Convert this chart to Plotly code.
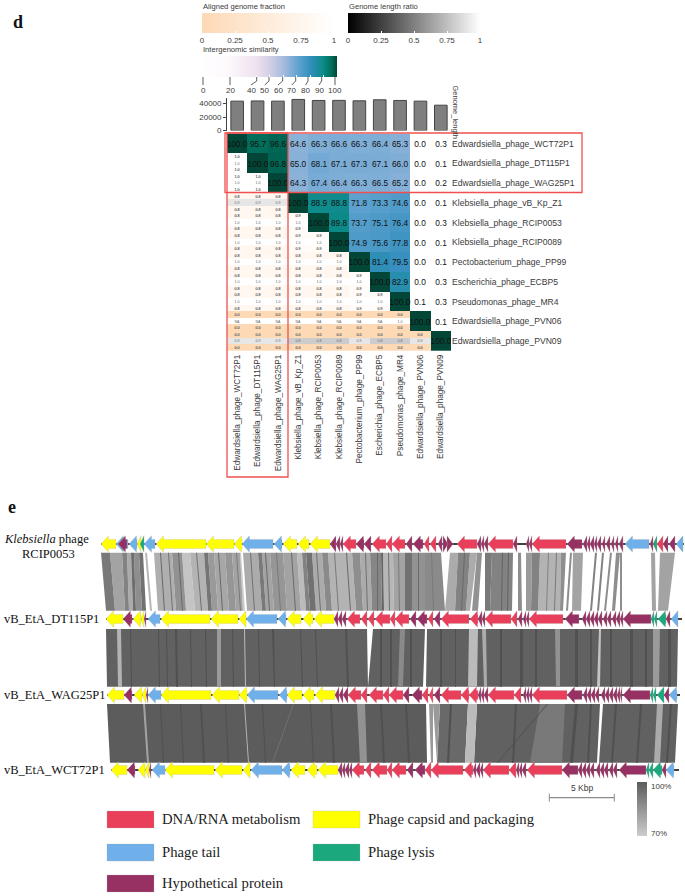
import plotly.graph_objects as go

W, H = 685, 896

# ---------- panel d data ----------
PHAGES = ["Edwardsiella_phage_WCT72P1", "Edwardsiella_phage_DT115P1", "Edwardsiella_phage_WAG25P1",
          "Klebsiella_phage_vB_Kp_Z1", "Klebsiella_phage_RCIP0053", "Klebsiella_phage_RCIP0089",
          "Pectobacterium_phage_PP99", "Escherichia_phage_ECBP5", "Pseudomonas_phage_MR4",
          "Edwardsiella_phage_PVN06", "Edwardsiella_phage_PVN09"]
GENOME_LENGTH = [43500, 43800, 43500, 46000, 44500, 44600, 44000, 45500, 44500, 43500, 37500]
# upper triangle, row by row, starting at the diagonal
SIMILARITY = [
    [100.0, 95.7, 96.6, 64.6, 66.3, 66.6, 66.3, 66.4, 65.3, 0.0, 0.3],
    [100.0, 96.8, 65.0, 68.1, 67.1, 67.3, 67.1, 66.0, 0.0, 0.1],
    [100.0, 64.3, 67.4, 66.4, 66.3, 66.5, 65.2, 0.0, 0.2],
    [100.0, 88.9, 88.8, 71.8, 73.3, 74.6, 0.0, 0.1],
    [100.0, 89.8, 73.7, 75.1, 76.4, 0.0, 0.3],
    [100.0, 74.9, 75.6, 77.8, 0.0, 0.1],
    [100.0, 81.4, 79.5, 0.0, 0.1],
    [100.0, 82.9, 0.0, 0.3],
    [100.0, 0.1, 0.3],
    [100.0, 0.1],
    [100.0],
]
# lower triangle: aligned fraction (used for top and bottom strip of each cell)
ALIGNED = [
    [],
    [1.0],
    [1.0, 1.0],
    [0.8, 0.8, 0.8],
    [0.8, 0.8, 0.8, 0.9],
    [0.8, 0.8, 0.8, 0.9, 0.9],
    [0.8, 0.8, 0.8, 0.8, 0.8, 0.8],
    [0.8, 0.8, 0.8, 0.8, 0.8, 0.8, 0.9],
    [0.8, 0.8, 0.8, 0.8, 0.8, 0.8, 0.9, 0.9],
    [0.0, 0.0, 0.0, 0.0, 0.0, 0.0, 0.0, 0.0, 0.0],
    [0.0, 0.0, 0.0, 0.0, 0.0, 0.0, 0.0, 0.0, 0.0, 0.0],
]
# lower triangle: genome length ratio (None = NA)
RATIO = [
    [],
    [1.0],
    [1.0, 1.0],
    [0.9, 0.9, 0.9],
    [1.0, 1.0, 1.0, 1.0],
    [1.0, 1.0, 1.0, 1.0, 1.0],
    [1.0, 1.0, 1.0, 1.0, 1.0, 1.0],
    [1.0, 1.0, 1.0, 1.0, 1.0, 1.0, 1.0],
    [1.0, 1.0, 1.0, 1.0, 1.0, 1.0, 1.0, 1.0],
    [None, None, None, None, None, None, None, None, 1.0],
    [0.9, 0.9, 0.9, 0.8, 0.8, 0.8, 0.9, 0.8, 0.8, 0.9],
]
FRACTION_TICKS = [0, 0.25, 0.5, 0.75, 1]
SIM_TICKS = [0, 20, 40, 50, 60, 70, 80, 90, 100]

# ---------- panel e data: (tip, tail, class); tip > tail means a rightward gene ----------
# positions along the map axis, 13 units = 1 kbp
UNITS_PER_KBP = 13
SCALE_KBP = 5
TRACK_NAMES = ["RCIP0053", "vB_EtA_DT115P1", "vB_EtA_WAG25P1", "vB_EtA_WCT72P1"]
EXTENT = [(101, 684), (106, 682), (107, 680), (111, 679)]
G1 = [(101, 116, 'C'), (116, 128, 'T'), (118, 127, 'H'), (129, 137, 'T'), (137, 141, 'C'), (140, 144, 'L'),
      (144, 155, 'T'), (156, 206, 'C'), (206, 234, 'C'), (234, 242, 'C'), (242, 273, 'T'), (274, 282, 'T'),
      (283, 297, 'C'), (298, 309, 'C'), (310, 330, 'C'), (330, 336, 'H'), (336, 340, 'H'), (340, 343, 'H'),
      (343, 356, 'D'), (356, 364, 'H'), (364, 371, 'H'), (372, 386, 'D'), (386, 392, 'D'), (392, 405, 'D'),
      (406, 412, 'H'), (413, 423, 'H'), (424, 429, 'D'), (430, 436, 'D'), (438, 442, 'H'), (448, 443, 'H'),
      (453, 447, 'H'), (457, 477, 'D'), (477, 481, 'H'), (481, 484, 'H'), (484, 488, 'H'), (488, 513, 'D'),
      (513, 517, 'H'), (526, 529, 'H'), (529, 532, 'H'), (532, 566, 'D'), (567, 582, 'H'), (583, 587, 'H'),
      (587, 590, 'H'), (590, 594, 'H'), (594, 597, 'H'), (597, 601, 'H'), (602, 605, 'H'), (606, 610, 'H'),
      (611, 614, 'H'), (615, 618, 'H'), (619, 623, 'H'), (625, 649, 'T'), (650, 653, 'H'), (653, 657, 'L'),
      (657, 663, 'D'), (663, 668, 'H'), (669, 675, 'H'), (676, 683, 'T')]
G2 = [(106, 123, 'C'), (123, 132, 'H'), (133, 141, 'C'), (141, 144, 'C'), (144, 146, 'H'), (148, 160, 'T'),
      (161, 210, 'C'), (211, 238, 'C'), (239, 246, 'C'), (246, 277, 'T'), (278, 286, 'T'), (287, 301, 'C'),
      (303, 313, 'C'), (314, 334, 'C'), (334, 338, 'H'), (338, 342, 'H'), (342, 346, 'H'), (347, 360, 'D'),
      (361, 367, 'D'), (368, 374, 'D'), (375, 390, 'D'), (390, 395, 'D'), (395, 409, 'D'), (410, 416, 'H'),
      (417, 427, 'H'), (428, 433, 'D'), (434, 440, 'H'), (441, 469, 'D'), (470, 478, 'D'), (478, 482, 'H'),
      (482, 485, 'H'), (485, 511, 'D'), (511, 517, 'D'), (518, 522, 'H'), (523, 526, 'H'), (526, 529, 'H'),
      (529, 563, 'D'), (565, 579, 'H'), (582, 586, 'H'), (586, 590, 'H'), (590, 594, 'H'), (594, 598, 'H'),
      (598, 602, 'H'), (603, 607, 'H'), (607, 611, 'H'), (612, 616, 'H'), (616, 620, 'H'), (620, 623, 'H'),
      (623, 651, 'H'), (651, 654, 'L'), (654, 657, 'L'), (658, 666, 'L'), (666, 670, 'H'), (671, 678, 'T')]
G3 = [(107, 124, 'C'), (124, 132, 'H'), (134, 142, 'C'), (142, 146, 'C'), (146, 148, 'H'), (148, 161, 'T'),
      (161, 211, 'C'), (212, 239, 'C'), (239, 247, 'C'), (247, 278, 'T'), (279, 287, 'T'), (287, 302, 'C'),
      (303, 314, 'C'), (315, 335, 'C'), (335, 339, 'H'), (339, 343, 'H'), (343, 348, 'H'), (348, 361, 'D'),
      (361, 367, 'D'), (369, 383, 'D'), (383, 389, 'D'), (389, 403, 'D'), (403, 409, 'H'), (412, 422, 'H'),
      (422, 428, 'D'), (429, 433, 'D'), (434, 440, 'H'), (441, 461, 'D'), (461, 469, 'D'), (469, 478, 'D'),
      (478, 481, 'H'), (481, 484, 'H'), (484, 488, 'H'), (488, 514, 'D'), (514, 521, 'D'), (523, 526, 'H'),
      (526, 529, 'H'), (529, 532, 'H'), (532, 567, 'D'), (567, 582, 'H'), (583, 587, 'H'), (587, 591, 'H'),
      (591, 595, 'H'), (595, 599, 'H'), (601, 605, 'H'), (605, 609, 'H'), (609, 613, 'H'), (613, 617, 'H'),
      (617, 620, 'H'), (620, 622, 'H'), (623, 650, 'H'), (650, 653, 'L'), (653, 656, 'L'), (657, 664, 'L'),
      (664, 669, 'H'), (669, 677, 'T')]
G4 = [(111, 127, 'C'), (127, 135, 'H'), (138, 145, 'C'), (145, 149, 'C'), (149, 151, 'H'), (152, 165, 'T'),
      (165, 214, 'C'), (215, 242, 'C'), (243, 250, 'C'), (251, 282, 'T'), (282, 290, 'T'), (291, 305, 'C'),
      (307, 317, 'C'), (318, 338, 'C'), (338, 342, 'H'), (342, 345, 'H'), (345, 349, 'H'), (349, 352, 'H'),
      (352, 364, 'D'), (365, 371, 'D'), (372, 387, 'D'), (387, 392, 'D'), (392, 406, 'D'), (407, 413, 'H'),
      (415, 425, 'H'), (425, 431, 'D'), (431, 463, 'D'), (464, 473, 'D'), (473, 476, 'H'), (476, 480, 'H'),
      (480, 483, 'H'), (483, 509, 'D'), (509, 516, 'D'), (516, 519, 'H'), (519, 522, 'H'), (522, 526, 'H'),
      (527, 562, 'D'), (562, 578, 'H'), (578, 582, 'H'), (582, 586, 'H'), (586, 590, 'H'), (590, 594, 'H'),
      (596, 600, 'H'), (600, 604, 'H'), (604, 608, 'H'), (609, 613, 'H'), (613, 617, 'H'), (619, 646, 'H'),
      (646, 649, 'L'), (649, 653, 'L'), (653, 662, 'L'), (662, 666, 'H'), (666, 674, 'T')]
GENES = [G1, G2, G3, G4]
CLASS_NAMES = {'D': "DNA/RNA metabolism", 'C': "Phage capsid and packaging", 'T': "Phage tail",
               'L': "Phage lysis", 'H': "Hypothetical protein"}
CLASS_COLORS = {'D': "#EA3F5B", 'C': "#FFFF00", 'T': "#6FB0EA", 'L': "#1AA87C", 'H': "#983163"}

# homology blocks: (top_start, top_end, bottom_start, bottom_end, identity %)
B12 = [(101, 110, 106, 115, 90), (110, 122, 115, 125, 80), (122, 127, 125, 129, 88), (127, 131, 129, 133, 78),
       (131, 134, 133, 136, 93), (134, 139, 136, 142, 85), (139, 143, 142, 146, 92), (145, 147, 150, 152, 75),
       (154, 172, 158, 176, 77), (172, 182, 176, 186, 84), (182, 190, 186, 195, 72), (190, 204, 195, 208, 76),
       (204, 208, 208, 212, 91), (208, 214, 212, 218, 82), (214, 225, 218, 229, 79), (225, 232, 229, 236, 83),
       (232, 240, 236, 243, 80), (240, 241, 243, 245, 70), (243, 258, 247, 262, 78), (258, 262, 262, 266, 90),
       (262, 270, 266, 274, 80), (270, 283, 274, 287, 83), (283, 297, 287, 301, 80), (297, 302, 301, 306, 74),
       (302, 306, 306, 310, 88), (306, 312, 310, 316, 92), (312, 322, 316, 326, 78), (322, 328, 326, 332, 86),
       (328, 340, 332, 344, 76), (340, 352, 344, 356, 76), (352, 360, 356, 363, 85), (360, 370, 363, 372, 78),
       (370, 381, 372, 382, 87), (381, 383, 382, 384, 95), (383, 393, 384, 394, 75), (393, 405, 394, 405, 80),
       (405, 412, 405, 412, 92), (412, 425, 412, 425, 84), (425, 441, 425, 445, 86), (450, 458, 445, 455, 78),
       (458, 470, 455, 466, 88), (470, 477, 466, 470, 78), (477, 482, 472, 478, 84), (485, 492, 485, 490, 90),
       (492, 513, 490, 512, 88), (518, 521, 518, 522, 85), (526, 532, 526, 531, 82), (532, 540, 531, 538, 88),
       (540, 561, 538, 560, 76), (561, 566, 560, 563, 85), (570, 572, 566, 568, 85), (573, 583, 572, 581, 80),
       (595, 597, 590, 592, 88), (602, 604, 597, 599, 88), (610, 612, 604, 606, 85), (616, 620, 612, 615, 85),
       (620, 622, 620, 622, 85), (651, 655, 652, 656, 80), (660, 675, 658, 668, 80),
       (160, 161, 164, 165, 94), (168, 169, 172, 173, 92), (178, 179, 182, 183, 94), (196, 197, 201, 202, 92),
       (218, 219, 222, 223, 94), (236, 237, 240, 241, 90), (250, 251, 254, 255, 92), (265, 266, 269, 270, 94),
       (276, 277, 280, 281, 90), (291, 292, 295, 296, 94), (316, 317, 320, 321, 92), (334, 335, 338, 339, 90),
       (346, 347, 350, 351, 94), (365, 366, 367, 368, 92), (377, 378, 377, 378, 94), (388, 389, 389, 390, 92),
       (398, 399, 399, 400, 90), (418, 419, 418, 419, 94), (431, 432, 433, 434, 90), (464, 465, 461, 462, 94),
       (502, 503, 501, 502, 95), (508, 509, 507, 508, 95), (548, 549, 546, 547, 88), (556, 557, 554, 555, 90)]
B23 = [(106, 367, 107, 368, 96), (373, 425, 368, 423, 96), (427, 678, 426, 677, 96),
       (117, 121, 118, 122, 76), (217, 221, 217, 221, 82), (244, 245, 245, 246, 74), (400, 405, 398, 403, 86),
       (469, 478, 468, 477, 74), (482, 486, 484, 487, 78), (555, 560, 556, 560, 84), (599, 601, 597, 600, 72),
       (653, 660, 653, 659, 82), (130, 131, 131, 132, 100), (158, 159, 159, 160, 100), (166, 167, 167, 168, 100),
       (175, 177, 176, 178, 100), (190, 191, 191, 192, 100), (205, 206, 206, 207, 100), (232, 233, 233, 234, 100),
       (258, 259, 259, 260, 100), (272, 274, 274, 275, 100), (300, 301, 302, 303, 100), (315, 316, 317, 318, 100),
       (345, 347, 347, 349, 100), (380, 382, 380, 382, 100), (390, 392, 390, 392, 100), (410, 412, 410, 412, 100),
       (440, 442, 440, 442, 100), (455, 456, 455, 456, 100), (500, 502, 500, 502, 100), (520, 523, 520, 523, 100),
       (535, 537, 535, 537, 100), (575, 578, 575, 578, 100), (590, 592, 590, 592, 100), (610, 612, 610, 612, 100),
       (630, 633, 630, 633, 100), (645, 647, 645, 647, 100), (668, 671, 668, 671, 100)]
B34 = [(107, 426, 110, 427, 97), (429, 433, 431, 433, 82), (440, 468, 437, 465, 94), (468, 477, 465, 474, 74),
       (477, 600, 474, 597, 96), (603, 678, 599, 675, 96), (433, 440, 437, 437, 82),
       (143, 145, 147, 149, 80), (357, 365, 360, 367, 84), (657, 663, 654, 660, 78), (244, 245, 248, 249, 76),
       (540, 565, 530, 562, 90), (293, 294, 272, 273, 92), (547, 548, 497, 498, 100),
       (160, 161, 163, 164, 100), (180, 181, 183, 184, 100), (200, 202, 203, 205, 100), (225, 226, 228, 229, 100),
       (262, 263, 265, 266, 100), (310, 311, 313, 314, 100), (330, 332, 333, 335, 100), (380, 382, 383, 385, 100),
       (405, 407, 408, 410, 100), (450, 452, 447, 449, 100), (515, 517, 512, 514, 100), (575, 578, 570, 573, 100),
       (590, 592, 587, 589, 100), (615, 617, 611, 613, 100), (640, 642, 636, 638, 100), (670, 672, 666, 668, 100)]
BLOCKS = [B12, B23, B34]

LABEL_INK = "#3a3a3a"

# ---------- layout geometry ----------
HX0, HX1, HY0, HY1 = 227, 451, 133.7, 351
BAR_ZERO_Y, BAR_TOP_Y, BAR_MAX = 130.5, 98.1, 48000
TRACK_Y = [544, 619, 695, 770]
BLOCK_Y = [(552.7, 610.7), (629, 686.7), (704, 762.7)]
n = len(PHAGES)

fig = go.Figure()

# upper triangle
z_up, t_up = [], []
for r in range(n):
    row_z = [None] * r + SIMILARITY[r]
    z_up.append(row_z)
    t_up.append(["" if v is None else f"{v:.1f}" for v in row_z])
SIM_SCALE = [[0, "#ffffff"], [0.2, "#fdf8fc"], [0.4, "#eee2f0"], [0.5, "#d3d0e6"], [0.6, "#a8bcdc"],
             [0.7, "#67a5d2"], [0.8, "#348fbe"], [0.9, "#0a8a86"], [0.96, "#016c59"], [1, "#014636"]]
fig.add_trace(go.Heatmap(z=z_up, x=list(range(n)), y=list(range(n)), text=t_up, texttemplate="%{text}",
                         textfont=dict(size=8.3, color="#111111", family="Liberation Sans"),
                         colorscale=SIM_SCALE, zmin=0, zmax=100, hoverinfo="skip", xaxis="x", yaxis="y",
                         colorbar=dict(orientation="h", x=202 / W, xanchor="left", y=1 - 56 / H, yanchor="top",
                                       lenmode="pixels", len=135, thicknessmode="pixels", thickness=21,
                                       xpad=0, ypad=0, outlinewidth=0, tickvals=SIM_TICKS,
                                       ticks="inside", ticklen=2, tickcolor="white", showticklabels=False)))

# lower triangle strips
sub_y, z_frac, z_ratio, t_sub = [], [], [], []
for r in range(n):
    for part in (0, 1, 2):
        sub_y.append(r + (part - 1) / 3)
        rf, rr, rt = [], [], []
        for c in range(n):
            if c < r:
                if part == 1:
                    v = RATIO[r][c]
                    rr.append(1.0 if v is None else v)
                    rf.append(None)
                    rt.append("NA" if v is None else f"{v:.1f}")
                else:
                    v = ALIGNED[r][c]
                    rf.append(v)
                    rr.append(None)
                    rt.append(f"{v:.1f}")
            else:
                rf.append(None); rr.append(None); rt.append("")
        z_frac.append(rf); z_ratio.append(rr); t_sub.append(rt)
tiny = dict(size=3.6, color="#666666", family="Liberation Sans")
fig.add_trace(go.Heatmap(z=z_frac, x=list(range(n)), y=sub_y, text=t_sub, texttemplate="%{text}", textfont=tiny,
                         colorscale=[[0, "#FDD9B5"], [1, "#FFFFFF"]], zmin=0, zmax=1, hoverinfo="skip",
                         xaxis="x", yaxis="y",
                         colorbar=dict(orientation="h", x=202 / W, xanchor="left", y=1 - 13 / H, yanchor="top",
                                       lenmode="pixels", len=132, thicknessmode="pixels", thickness=20,
                                       xpad=0, ypad=0, outlinewidth=0, tickvals=FRACTION_TICKS,
                                       ticktext=["0", "0.25", "0.5", "0.75", "1"], ticks="inside", ticklen=2,
                                       tickcolor="white", tickfont=dict(size=8, color=LABEL_INK,
                                                                        family="Liberation Sans"))))
fig.add_trace(go.Heatmap(z=z_ratio, x=list(range(n)), y=sub_y, text=t_sub, texttemplate="%{text}", textfont=tiny,
                         colorscale=[[0, "#000000"], [1, "#FFFFFF"]], zmin=0, zmax=1, hoverinfo="skip",
                         xaxis="x", yaxis="y",
                         colorbar=dict(orientation="h", x=348 / W, xanchor="left", y=1 - 13 / H, yanchor="top",
                                       lenmode="pixels", len=132, thicknessmode="pixels", thickness=20,
                                       xpad=0, ypad=0, outlinewidth=0, tickvals=FRACTION_TICKS,
                                       ticktext=["0", "0.25", "0.5", "0.75", "1"], ticks="inside", ticklen=2,
                                       tickcolor="white", tickfont=dict(size=8, color=LABEL_INK,
                                                                        family="Liberation Sans"))))
# genome length bars
fig.add_trace(go.Bar(x=list(range(n)), y=GENOME_LENGTH, width=0.62, marker=dict(color="#7f7f7f",
                     line=dict(color="#444444", width=1)), xaxis="x2", yaxis="y2", hoverinfo="skip"))


# ---------- panel e marks ----------
def grey(identity):
    g = int(round(80 + (100 - identity) * 4.13))
    return f"rgb({g},{g},{g})"


for pair, blocks in enumerate(BLOCKS):
    y0, y1 = BLOCK_Y[pair]
    groups = {}
    for (a, b, c, d, idn) in blocks:
        gx, gy = groups.setdefault(idn, ([], []))
        gx += [a, b, d, c, a, None]
        gy += [y0, y0, y1, y1, y0, None]
    base_first = sorted(groups.items(), key=lambda kv: (pair == 0 or kv[0] not in (94, 96, 97), kv[0]))
    for idn, (gx, gy) in base_first:
        fig.add_trace(go.Scatter(x=gx, y=gy, mode="lines", fill="toself", fillcolor=grey(idn),
                                 line=dict(width=0), hoverinfo="skip", xaxis="x3", yaxis="y3"))

for t, (e0, e1) in enumerate(EXTENT):
    fig.add_trace(go.Scatter(x=[e0, e1], y=[TRACK_Y[t], TRACK_Y[t]], mode="lines",
                             line=dict(color="#000000", width=1.6), hoverinfo="skip", xaxis="x3", yaxis="y3"))

BODY, HEAD, HEAD_LEN = 4.6, 8.3, 7.5
for cls in "CTLDH":
    px, py = [], []
    for t, genes in enumerate(GENES):
        yc = TRACK_Y[t]
        for (tip, tail, k) in genes:
            if k != cls:
                continue
            sgn = 1 if tail > tip else -1
            length = abs(tail - tip)
            h = min(HEAD_LEN, length)
            neck = tip + sgn * h
            if length > h:
                px += [tip, neck, neck, tail, tail, neck, neck, tip, None]
                py += [yc, yc - HEAD, yc - BODY, yc - BODY, yc + BODY, yc + BODY, yc + HEAD, yc, None]
            else:
                px += [tip, neck, neck, tip, None]
                py += [yc, yc - HEAD, yc + HEAD, yc, None]
    fig.add_trace(go.Scatter(x=px, y=py, mode="lines", fill="toself", fillcolor=CLASS_COLORS[cls],
                             line=dict(color="rgba(170,170,170,0.55)", width=0.5), hoverinfo="skip",
                             xaxis="x3", yaxis="y3"))

# scale bar
SB0 = 549.3
SB_Y = 797.7
sb_x = [SB0, SB0 + SCALE_KBP * UNITS_PER_KBP]
fig.add_trace(go.Scatter(x=sb_x, y=[SB_Y, SB_Y], mode="lines", line=dict(color="#8c8c8c", width=1.2),
                         hoverinfo="skip", xaxis="x3", yaxis="y3"))
for sx in sb_x:
    fig.add_trace(go.Scatter(x=[sx, sx], y=[SB_Y - 4, SB_Y + 4], mode="lines", line=dict(color="#8c8c8c", width=1),
                             hoverinfo="skip", xaxis="x3", yaxis="y3"))

# identity colour key
fig.add_trace(go.Scatter(x=[-20, -20], y=[-20, -20], mode="markers", hoverinfo="skip", xaxis="x3", yaxis="y3",
                         marker=dict(size=1, color=[70, 100], cmin=70, cmax=100, showscale=True,
                                     colorscale=[[0, "#cccccc"], [1, "#5c5c5c"]],
                                     colorbar=dict(x=637 / W, xanchor="left", y=1 - 782 / H, yanchor="top",
                                                   lenmode="pixels", len=54, thicknessmode="pixels", thickness=10,
                                                   xpad=0, ypad=0, outlinewidth=0, ticks="",
                                                   showticklabels=False))))

# similarity legend leader lines
SIM_TICK_X = [203, 230, 256.7, 269, 282.7, 295.7, 308, 321.7, 335]
SIM_LABEL_X = [203, 230, 251, 264.7, 278, 291.7, 305.7, 319, 335]
lx, ly = [], []
for a, b in zip(SIM_TICK_X, SIM_LABEL_X):
    lx += [a, a, b, None]
    ly += [77, 81, 85, None]
fig.add_trace(go.Scatter(x=lx, y=ly, mode="lines", line=dict(color="#333333", width=0.8),
                         hoverinfo="skip", xaxis="x3", yaxis="y3"))

# ---------- legend swatches, boxes ----------
shapes = []
LEGEND_ROWS = [('D', 107, 811), ('T', 107, 844), ('H', 107, 875), ('C', 313, 811), ('L', 313, 844)]
annotations = []


def note(x, y, text, size=8, family="Liberation Sans", color=LABEL_INK, anchor="left", angle=0):
    annotations.append(dict(x=x, y=y, xref="x3", yref="y3", text=text, showarrow=False, xanchor=anchor,
                            yanchor="middle", textangle=angle, font=dict(size=size, family=family, color=color)))


for k, x0, y0 in LEGEND_ROWS:
    shapes.append(dict(type="rect", xref="x3", yref="y3", x0=x0, x1=x0 + 47, y0=y0, y1=y0 + 17,
                       fillcolor=CLASS_COLORS[k], line=dict(color="rgba(170,170,170,0.4)", width=0.6), layer="above"))
    note(x0 + 53, y0 + 8, CLASS_NAMES[k], size=14.7, family="Liberation Serif", color="#222222")

RED = "#F0504F"
shapes.append(dict(type="rect", xref="x3", yref="y3", x0=225, x1=582, y0=133, y1=192.5,
                   line=dict(color=RED, width=1.3), layer="above"))
shapes.append(dict(type="rect", xref="x3", yref="y3", x0=227, x1=288, y0=133, y1=477,
                   line=dict(color=RED, width=1.3), layer="above"))

# ---------- text ----------
note(11, 22, "<b>d</b>", size=18, family="Liberation Serif", color="#111111")
note(6, 507, "<b>e</b>", size=18, family="Liberation Serif", color="#111111")
note(201, 6, "Aligned genome fraction", size=7.6)
note(347, 6, "Genome length ratio", size=7.6)
note(201, 49, "Intergenomic similarity", size=7.6)
for lab, x in zip(SIM_TICKS, SIM_LABEL_X):
    note(x, 90, str(lab), size=8, anchor="center")
note(455.5, 112, "Genome_length", size=7.5, anchor="center", angle=90)
note(46, 539, "<i>Klebsiella</i> phage", size=12.5, family="Liberation Serif", color="#111111", anchor="center")
note(48, 553.5, TRACK_NAMES[0], size=12.5, family="Liberation Serif", color="#111111", anchor="center")
for name, y in zip(TRACK_NAMES[1:], TRACK_Y[1:]):
    note(2, y, name, size=12.5, family="Liberation Serif", color="#111111")
note(581.7, 788, f"{SCALE_KBP} Kbp", size=8.5, anchor="center")
note(648.5, 786, "100%", size=8)
note(648.5, 833, "70%", size=8)

fig.update_layout(
    width=W, height=H, showlegend=False, paper_bgcolor="white", plot_bgcolor="rgba(0,0,0,0)",
    margin=dict(l=0, r=0, t=0, b=0, autoexpand=False),
    shapes=shapes, annotations=annotations,
    xaxis=dict(domain=[HX0 / W, HX1 / W], range=[-0.5, n - 0.5], tickmode="array", tickvals=list(range(n)),
               ticktext=PHAGES, tickangle=-90, ticks="", showgrid=False, zeroline=False, showline=False,
               tickfont=dict(size=8.2, color=LABEL_INK, family="Liberation Sans"), anchor="y", ticklabelstandoff=1),
    yaxis=dict(domain=[1 - HY1 / H, 1 - HY0 / H], range=[n - 0.5, -0.5], tickmode="array", tickvals=list(range(n)),
               ticktext=PHAGES, side="right", ticks="", showgrid=False, zeroline=False, showline=False,
               tickfont=dict(size=8.6, color=LABEL_INK, family="Liberation Sans"), anchor="x"),
    xaxis2=dict(domain=[HX0 / W, HX1 / W], range=[-0.5, n - 0.5], visible=False, anchor="y2"),
    yaxis2=dict(domain=[1 - BAR_ZERO_Y / H, 1 - BAR_TOP_Y / H], range=[0, BAR_MAX], tickvals=[0, 20000, 40000],
                tickformat="d", ticks="outside", ticklen=3, tickwidth=0.8, tickcolor="#444444", showgrid=False,
                zeroline=False, showline=True, linecolor="#444444", linewidth=0.8,
                tickfont=dict(size=8, color=LABEL_INK, family="Liberation Sans"), anchor="x2"),
    xaxis3=dict(domain=[0, 1], range=[0, W], visible=False, anchor="y3"),
    yaxis3=dict(domain=[0, 1], range=[H, 0], visible=False, anchor="x3"),
)

fig.write_html("out.html", config={"displayModeBar": False},
               post_script="document.body.style.margin='0';document.body.style.overflow='hidden';")
